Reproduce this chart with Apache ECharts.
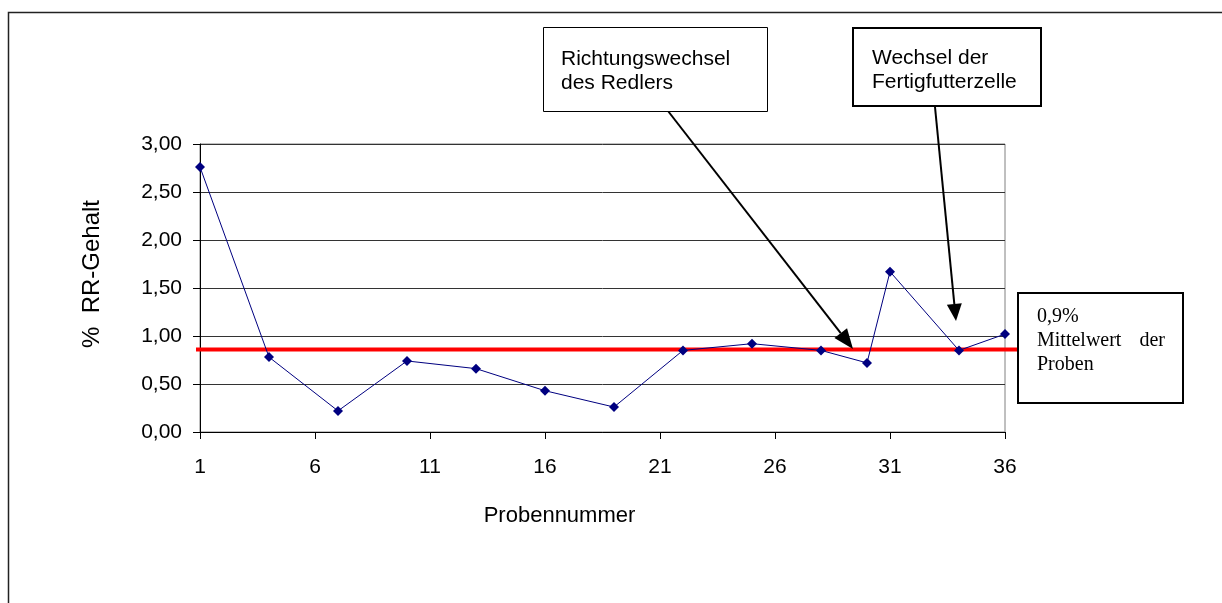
<!DOCTYPE html>
<html>
<head>
<meta charset="utf-8">
<script src="https://cdn.jsdelivr.net/npm/echarts@6/dist/echarts.min.js"></script>
<style>
html,body{margin:0;padding:0;background:#fff;}
#chart{width:1222px;height:603px;}
</style>
</head>
<body>
<div id="chart"></div>
<script>
// ---- data ----
const categories = Array.from({length: 36}, (_, i) => String(i + 1));
const sampleNumbers = [1, 4, 7, 10, 13, 16, 19, 22, 25, 28, 30, 31, 34, 36];
const rrValues = [2.76, 0.78, 0.22, 0.74, 0.66, 0.43, 0.26, 0.85, 0.92, 0.85, 0.72, 1.67, 0.85, 1.02];
const meanValue = 0.86;
const yTicks = ['0,00', '0,50', '1,00', '1,50', '2,00', '2,50', '3,00'];
const xTitle = 'Probennummer';
const yTitle = '%  RR-Gehalt';

const seriesData = sampleNumbers.map((n, i) => [n - 1, rrValues[i]]);

const chart = echarts.init(document.getElementById('chart'), null, {renderer: 'canvas'});
const font = '"Liberation Sans", Arial, sans-serif';
const serif = '"Liberation Serif", "Times New Roman", serif';

function arrow(x1, y1, x2, y2, len, half) {
  const dx = x2 - x1, dy = y2 - y1, d = Math.hypot(dx, dy);
  const ux = dx / d, uy = dy / d;
  const bx = x2 - ux * len, by = y2 - uy * len;
  const nx = -uy, ny = ux;
  return [
    {type: 'line', shape: {x1: x1, y1: y1, x2: bx, y2: by}, style: {stroke: '#000', lineWidth: 2}, z: 100},
    {type: 'polygon', shape: {points: [[x2, y2], [bx + nx * half, by + ny * half], [bx - nx * half, by - ny * half]]}, style: {fill: '#000'}, z: 100}
  ];
}

const option = {
  backgroundColor: '#fff',
  animation: false,
  grid: [
    {left: 200, right: 217, top: 144, bottom: 171, show: true, borderColor: '#808080', borderWidth: 1},
    {left: 196, width: 822, top: 144, bottom: 171, show: false}
  ],
  xAxis: [
    {
      type: 'category', gridIndex: 0, data: categories, boundaryGap: false,
      axisLine: {lineStyle: {color: '#000', width: 1}},
      axisTick: {show: true, interval: 4, length: 7, lineStyle: {color: '#000'}},
      axisLabel: {interval: 4, color: '#000', fontFamily: font, fontSize: 21, margin: 25},
      splitLine: {show: false},
      name: xTitle, nameLocation: 'middle', nameGap: 73,
      nameTextStyle: {color: '#000', fontFamily: font, fontSize: 22, padding: [0, 86, 0, 0]}
    },
    {type: 'value', gridIndex: 1, min: 0, max: 1, show: false}
  ],
  yAxis: [
    {
      type: 'value', gridIndex: 0, min: 0, max: 3, interval: 0.5,
      axisLine: {show: true, lineStyle: {color: '#000', width: 1}},
      axisTick: {show: true, length: 7, lineStyle: {color: '#000'}},
      axisLabel: {color: '#000', fontFamily: font, fontSize: 21, margin: 18,
        formatter: (v) => yTicks[Math.round(v / 0.5)]},
      splitLine: {show: true, lineStyle: {color: '#333', width: 1}},
      name: yTitle, nameLocation: 'middle', nameGap: 96, nameRotate: 90,
      nameTextStyle: {color: '#000', fontFamily: font, fontSize: 24, padding: [0, 0, 0, 28]}
    },
    {type: 'value', gridIndex: 1, min: 0, max: 3, show: false}
  ],
  series: [
    {
      type: 'line', xAxisIndex: 1, yAxisIndex: 1, z: 2,
      data: [[0, meanValue], [1, meanValue]],
      showSymbol: false, symbol: 'none',
      lineStyle: {color: '#ff0000', width: 4}
    },
    {
      type: 'line', xAxisIndex: 0, yAxisIndex: 0, z: 3,
      data: seriesData,
      symbol: 'diamond', symbolSize: 10,
      itemStyle: {color: '#000080'},
      lineStyle: {color: '#000080', width: 1}
    }
  ],
  graphic: [
    {type: 'rect', shape: {x: 8.5, y: 12.5, width: 1300, height: 700}, style: {fill: null, stroke: '#222', lineWidth: 1.5}, silent: true, z: 1},
    // box 1
    {type: 'rect', shape: {x: 543.5, y: 27.5, width: 224, height: 84}, style: {fill: '#fff', stroke: '#000', lineWidth: 1}, z: 101},
    {type: 'text', x: 561, y: 47, style: {text: 'Richtungswechsel\ndes Redlers', font: '21px ' + font, fill: '#000', lineHeight: 24, verticalAlign: 'top'}, z: 102},
    // box 2
    {type: 'rect', shape: {x: 853, y: 28, width: 188, height: 78}, style: {fill: '#fff', stroke: '#000', lineWidth: 2}, z: 101},
    {type: 'text', x: 872, y: 46, style: {text: 'Wechsel der\nFertigfutterzelle', font: '21px ' + font, fill: '#000', lineHeight: 24, verticalAlign: 'top'}, z: 102},
    // box 3
    {type: 'rect', shape: {x: 1018, y: 293, width: 165, height: 110}, style: {fill: '#fff', stroke: '#000', lineWidth: 2}, z: 101},
    {type: 'text', x: 1037, y: 305, style: {text: '0,9%\nMittelwert\nProben', font: '20px ' + serif, fill: '#000', lineHeight: 24, verticalAlign: 'top'}, z: 102},
    {type: 'text', x: 1165, y: 329, style: {text: 'der', font: '20px ' + serif, fill: '#000', lineHeight: 24, verticalAlign: 'top', align: 'right'}, z: 102}
  ].concat(arrow(668, 111, 853, 349, 20, 8)).concat(arrow(935, 107, 956, 321, 17, 7.5))
};
chart.setOption(option);
</script>
</body>
</html>
